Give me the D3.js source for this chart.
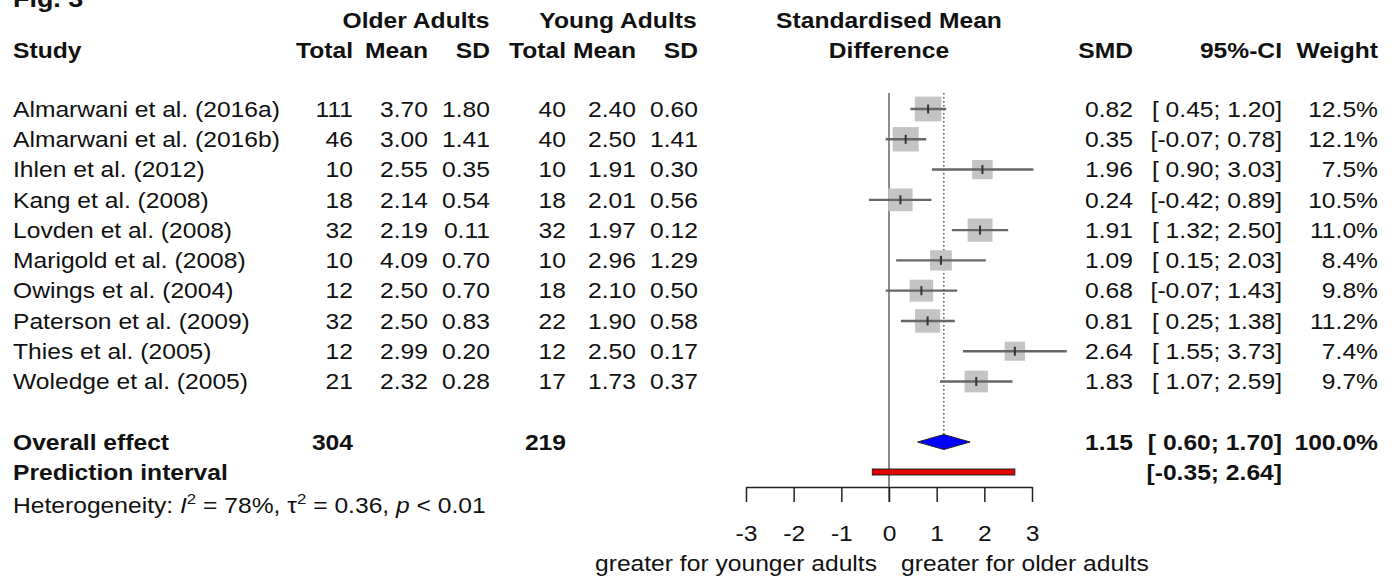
<!DOCTYPE html>
<html><head><meta charset="utf-8">
<script src="https://cdn.jsdelivr.net/npm/d3@7"></script>
<style>body{margin:0;background:#fff}svg{display:block}text{font-family:"Liberation Sans",Arial,Helvetica,sans-serif;fill:#111}</style>
</head><body><svg id="c" width="1399" height="579"></svg>
<script>
const studies = ["Almarwani et al. (2016a)","Almarwani et al. (2016b)","Ihlen et al. (2012)","Kang et al. (2008)","Lovden et al. (2008)","Marigold et al. (2008)","Owings et al. (2004)","Paterson et al. (2009)","Thies et al. (2005)","Woledge et al. (2005)"];
const oldTotal = [111,46,10,18,32,10,12,32,12,21];
const oldMean = [3.70,3.00,2.55,2.14,2.19,4.09,2.50,2.50,2.99,2.32];
const oldSD = [1.80,1.41,0.35,0.54,0.11,0.70,0.70,0.83,0.20,0.28];
const youngTotal = [40,40,10,18,32,10,18,22,12,17];
const youngMean = [2.40,2.50,1.91,2.01,1.97,2.96,2.10,1.90,2.50,1.73];
const youngSD = [0.60,1.41,0.30,0.56,0.12,1.29,0.50,0.58,0.17,0.37];
const smd = [0.82,0.35,1.96,0.24,1.91,1.09,0.68,0.81,2.64,1.83];
const ciLow = [0.45,-0.07,0.90,-0.42,1.32,0.15,-0.07,0.25,1.55,1.07];
const ciHigh = [1.20,0.78,3.03,0.89,2.50,2.03,1.43,1.38,3.73,2.59];
const weight = [12.5,12.1,7.5,10.5,11.0,8.4,9.8,11.2,7.4,9.7];
const overall = {smd:1.15, low:0.60, high:1.70, weight:100.0, oldTotal:304, youngTotal:219};
const predInt = {low:-0.35, high:2.64};
const hetero = {I2:"78%", tau2:"0.36", p:"< 0.01"};
const axisTicks = [-3,-2,-1,0,1,2,3];

const svg = d3.select("#c");
const SX = 1.12, FS = 22;
const x = d3.scaleLinear().domain([-3,3]).range([746,1032]);
const y = d3.scaleLinear().domain([0,9]).range([109,381.5]);
const yOverall = 442, yPI = 472, yHet = 505;

function txt(xp, yp, s, o={}) {
  const t = svg.append("text")
    .attr("transform", `translate(${xp},${yp}) scale(${SX},1)`)
    .attr("dy","0.35em")
    .attr("text-anchor", o.anchor || "end")
    .attr("font-size", o.size || FS)
    .attr("font-weight", o.bold ? "bold" : "normal")
    .text(s);
  return t;
}
const f2 = v => v.toFixed(2);
const fci = (l,h) => `[${l<0?"":" "}${f2(l)}; ${f2(h)}]`;

// Fig title (cut off at top, as in the reference)
txt(13, -1, "Fig. 3", {anchor:"start", bold:true, size:24});

// headers
const cols = {oT:353, oM:428, oS:490, yT:566, yM:636, yS:698, smd:1133, ci:1282, w:1378};
txt(416, 20, "Older Adults", {anchor:"middle", bold:true});
txt(618, 20, "Young Adults", {anchor:"middle", bold:true});
txt(x(0), 20, "Standardised Mean", {anchor:"middle", bold:true});
txt(13, 50, "Study", {anchor:"start", bold:true});
[["oT","Total"],["oM","Mean"],["oS","SD"],["yT","Total"],["yM","Mean"],["yS","SD"],["smd","SMD"],["ci","95%-CI"],["w","Weight"]]
  .forEach(([k,s]) => txt(cols[k], 50, s, {bold:true}));
txt(x(0), 50, "Difference", {anchor:"middle", bold:true});

// study rows text
studies.forEach((s,i) => {
  const yy = y(i);
  txt(13, yy, s, {anchor:"start"});
  txt(cols.oT, yy, oldTotal[i]);
  txt(cols.oM, yy, f2(oldMean[i]));
  txt(cols.oS, yy, f2(oldSD[i]));
  txt(cols.yT, yy, youngTotal[i]);
  txt(cols.yM, yy, f2(youngMean[i]));
  txt(cols.yS, yy, f2(youngSD[i]));
  txt(cols.smd, yy, f2(smd[i]));
  txt(cols.ci, yy, fci(ciLow[i], ciHigh[i]));
  txt(cols.w, yy, weight[i].toFixed(1) + "%");
});

// overall
txt(13, yOverall, "Overall effect", {anchor:"start", bold:true});
txt(cols.oT, yOverall, overall.oldTotal, {bold:true});
txt(cols.yT, yOverall, overall.youngTotal, {bold:true});
txt(cols.smd, yOverall, f2(overall.smd), {bold:true});
txt(cols.ci, yOverall, fci(overall.low, overall.high), {bold:true});
txt(cols.w, yOverall, overall.weight.toFixed(1) + "%", {bold:true});
txt(13, yPI, "Prediction interval", {anchor:"start", bold:true});
txt(cols.ci, yPI, fci(predInt.low, predInt.high), {bold:true});

// heterogeneity
const h = svg.append("text")
  .attr("transform", `translate(13,${yHet}) scale(${SX},1)`)
  .attr("dy","0.35em").attr("font-size", 22);
h.append("tspan").text("Heterogeneity: ");
h.append("tspan").attr("font-style","italic").text("I");
h.append("tspan").attr("font-size",15).attr("dy","-0.6em").text("2");
h.append("tspan").attr("dy","0.41em").text(" = " + hetero.I2 + ", \u03C4");
h.append("tspan").attr("font-size",15).attr("dy","-0.6em").text("2");
h.append("tspan").attr("dy","0.41em").text(" = " + hetero.tau2 + ", ");
h.append("tspan").attr("font-style","italic").text("p");
h.append("tspan").text(" " + hetero.p);

// forest lines
const topY = 93;
svg.append("line").attr("x1",x(0)).attr("x2",x(0)).attr("y1",topY).attr("y2",502)
  .attr("stroke","#8c8c8c").attr("stroke-width",2);
svg.append("line").attr("x1",x(overall.smd)).attr("x2",x(overall.smd)).attr("y1",topY).attr("y2",yOverall-8)
  .attr("stroke","#555").attr("stroke-width",1.5).attr("stroke-dasharray","1.5,2.5");

// study marks
studies.forEach((s,i) => {
  const yy = y(i);
  const side = Math.sqrt(weight[i]);
  const w = 7.5*side, hh = 7.0*side;
  svg.append("rect").attr("x", x(smd[i]) - w/2).attr("y", yy - hh/2)
    .attr("width", w).attr("height", hh).attr("fill","#c4c4c4");
  svg.append("line").attr("x1",x(ciLow[i])).attr("x2",x(ciHigh[i])).attr("y1",yy).attr("y2",yy)
    .attr("stroke","#666").attr("stroke-width",2.4);
  svg.append("line").attr("x1",x(smd[i])).attr("x2",x(smd[i])).attr("y1",yy-4.5).attr("y2",yy+4.5)
    .attr("stroke","#333").attr("stroke-width",2);
});

// diamond
svg.append("path").attr("d", `M${x(overall.low)},${yOverall} L${x(overall.smd)},${yOverall-7.5} L${x(overall.high)},${yOverall} L${x(overall.smd)},${yOverall+7.5} Z`)
  .attr("fill","#0000ff").attr("stroke","#222").attr("stroke-width",1);

// prediction interval
svg.append("rect").attr("x", x(predInt.low)).attr("y", yPI-3).attr("width", x(predInt.high)-x(predInt.low)).attr("height", 6)
  .attr("fill","#e00000").attr("stroke","#222").attr("stroke-width",1);

// axis
const ax = svg.append("g").attr("transform","translate(0,487)")
  .call(d3.axisBottom(x).tickValues(axisTicks).tickSize(15).tickSizeOuter(0).tickFormat(d3.format("d")));
ax.select(".domain").attr("stroke","#222").attr("stroke-width",1.5);
ax.selectAll(".tick line").attr("stroke","#222").attr("stroke-width",1.5);
ax.selectAll(".tick text").attr("y",46).attr("dy","0.35em").attr("font-size",FS)
  .attr("font-family",null).attr("fill","#111").attr("transform",`scale(${SX},1)`)
  .text(d => d < 0 ? "-" + Math.abs(d) : d);

txt(x(0) - 12, 563, "greater for younger adults", {anchor:"end"});
txt(x(0) + 12, 563, "greater for older adults", {anchor:"start"});
</script></body></html>
